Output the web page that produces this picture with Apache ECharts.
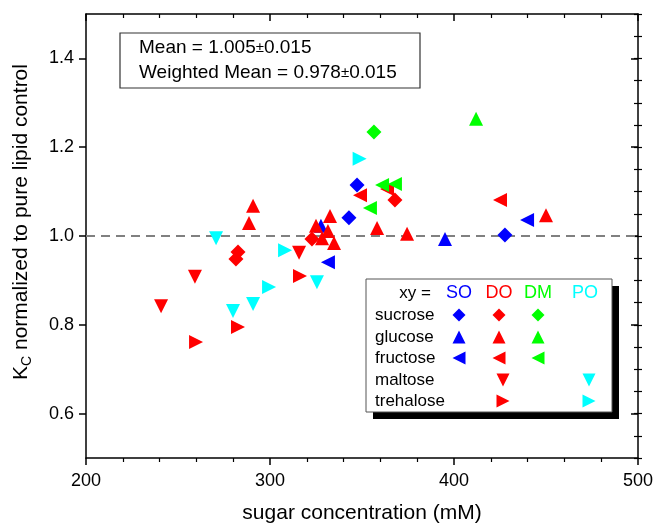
<!DOCTYPE html>
<html>
<head>
<meta charset="utf-8">
<script src="https://cdn.jsdelivr.net/npm/echarts@6/dist/echarts.min.js"></script>
<style>
  html, body { margin: 0; padding: 0; background: #fff; }
  #chart { width: 654px; height: 524px; }
</style>
</head>
<body>
<div id="chart"></div>
<script>
// [sugar concentration (mM), Kc normalized]
var soSucrose = [[347.3, 1.115], [342.9, 1.041], [427.7, 1.002]];
var soGlucose = [[327.7, 1.023], [395.1, 0.993]];
var soFructose = [[331.5, 0.941], [439.7, 1.036]];

var doSucrose = [[322.8, 0.993], [282.6, 0.964], [281.5, 0.948], [367.9, 1.081]];
var doGlucose = [[290.8, 1.068], [288.6, 1.029], [332.6, 1.045], [325.0, 1.023], [331.5, 1.011],
                 [328.3, 0.995], [334.8, 0.984], [358.2, 1.018], [374.5, 1.005], [450.0, 1.047]];
var doFructose = [[348.9, 1.092], [363.6, 1.106], [425.0, 1.081]];
var doMaltose = [[240.8, 0.842], [259.2, 0.908], [315.8, 0.962]];
var doTrehalose = [[282.6, 0.795], [259.8, 0.761], [316.3, 0.910]];

var dmSucrose = [[356.5, 1.234]];
var dmGlucose = [[412.0, 1.264]];
var dmFructose = [[360.9, 1.115], [367.9, 1.117], [354.3, 1.063]];

var poMaltose = [[270.7, 0.995], [279.9, 0.831], [290.8, 0.847], [325.5, 0.896]];
var poTrehalose = [[299.5, 0.885], [308.2, 0.968], [348.7, 1.174]];

var yMajorTicks = [0.6, 0.8, 1.0, 1.2, 1.4];
var lipids = ['SO', 'DO', 'DM', 'PO'];
var sugars = ['sucrose', 'glucose', 'fructose', 'maltose', 'trehalose'];

var colors = { SO: '#0000ff', DO: '#ff0000', DM: '#00ff00', PO: '#00ffff' };
// symbol + rotation for each sugar (ECharts rotates counter-clockwise)
var shapes = {
  sucrose: ['diamond', 0],
  glucose: ['triangle', 0],
  fructose: ['triangle', 90],
  maltose: ['triangle', 180],
  trehalose: ['triangle', -90]
};

var groups = [
  ['SO', 'sucrose', soSucrose], ['SO', 'glucose', soGlucose], ['SO', 'fructose', soFructose],
  ['DO', 'sucrose', doSucrose], ['DO', 'glucose', doGlucose], ['DO', 'fructose', doFructose],
  ['DO', 'maltose', doMaltose], ['DO', 'trehalose', doTrehalose],
  ['DM', 'sucrose', dmSucrose], ['DM', 'glucose', dmGlucose], ['DM', 'fructose', dmFructose],
  ['PO', 'maltose', poMaltose], ['PO', 'trehalose', poTrehalose]
];

var font = 'Liberation Sans, Arial, sans-serif';
var myChart = echarts.init(document.getElementById('chart'));

var seriesArr = groups.map(function (g) {
  var sh = shapes[g[1]];
  return {
    name: g[0] + ' ' + g[1],
    type: 'scatter',
    data: g[2],
    symbol: sh[0],
    symbolRotate: sh[1],
    symbolSize: g[1] === 'sucrose' ? 15 : 14,
    itemStyle: { color: colors[g[0]], opacity: 1 },
    emphasis: { disabled: true },
    z: 3
  };
});
seriesArr[0].markLine = {
  silent: true,
  symbol: 'none',
  label: { show: false },
  lineStyle: { color: '#808080', type: [9, 6], width: 2 },
  data: [{ yAxis: 1.0 }],
  z: 1
};

// legend matrix drawn as graphic
function marker(sym, rot, cx, cy, s, color) {
  var h = s / 2, pts;
  if (sym === 'diamond') pts = [[cx, cy - h], [cx + h, cy], [cx, cy + h], [cx - h, cy]];
  else if (rot === 0) pts = [[cx, cy - h], [cx + h, cy + h], [cx - h, cy + h]];
  else if (rot === 90) pts = [[cx - h, cy], [cx + h, cy - h], [cx + h, cy + h]];
  else if (rot === 180) pts = [[cx, cy + h], [cx + h, cy - h], [cx - h, cy - h]];
  else pts = [[cx + h, cy], [cx - h, cy - h], [cx - h, cy + h]];
  return { type: 'polygon', shape: { points: pts }, style: { fill: color }, z: 12 };
}

var legX = { SO: 459, DO: 499, DM: 538, PO: 585 };
var rowY = { sucrose: 315, glucose: 337, fructose: 358, maltose: 380, trehalose: 401 };
var legendEls = [
  { type: 'rect', shape: { x: 373, y: 286, width: 246, height: 133 }, style: { fill: '#000' }, z: 10 },
  { type: 'rect', shape: { x: 366, y: 279, width: 246, height: 133 }, style: { fill: '#fff', stroke: '#555', lineWidth: 1 }, z: 11 },
  { type: 'text', x: 431, y: 293, style: { text: 'xy =', font: '17px ' + font, fill: '#000', align: 'right', verticalAlign: 'middle' }, z: 12 }
];
lipids.forEach(function (l) {
  legendEls.push({ type: 'text', x: legX[l], y: 293, style: { text: l, font: '18px ' + font, fill: colors[l], align: 'center', verticalAlign: 'middle' }, z: 12 });
});
sugars.forEach(function (s) {
  legendEls.push({ type: 'text', x: 375, y: rowY[s], style: { text: s, font: '17px ' + font, fill: '#000', align: 'left', verticalAlign: 'middle' }, z: 12 });
});
groups.forEach(function (g) {
  var sh = shapes[g[1]];
  var dx = (g[1] === 'maltose' || g[1] === 'trehalose') ? 4 : 0;
  legendEls.push(marker(sh[0], sh[1], legX[g[0]] + dx, rowY[g[1]], 13, colors[g[0]]));
});

var statRich = {
  a: { fontFamily: font, fontSize: 19, fill: '#000' },
  pm: { fontFamily: font, fontSize: 15, fill: '#000' }
};
var statsEls = [
  { type: 'rect', shape: { x: 120, y: 33, width: 300, height: 55 }, style: { fill: '#fff', stroke: '#333', lineWidth: 1.2 }, z: 10 },
  { type: 'text', x: 139, y: 48, style: { text: '{a|Mean = 1.005}{pm|\u00b1}{a|0.015}', rich: statRich, verticalAlign: 'middle' }, z: 11 },
  { type: 'text', x: 139, y: 73, style: { text: '{a|Weighted Mean = 0.978}{pm|\u00b1}{a|0.015}', rich: statRich, verticalAlign: 'middle' }, z: 11 }
];

var axisLineStyle = { color: '#000', width: 1.5 };
var option = {
  backgroundColor: '#fff',
  animation: false,
  grid: { left: 86, right: 16, top: 14, bottom: 66, containLabel: false, outerBoundsMode: 'none' },
  xAxis: [
    {
      type: 'value', min: 200, max: 500, interval: 100,
      name: 'sugar concentration (mM)', nameLocation: 'middle', nameGap: 45,
      nameTextStyle: { fontFamily: font, fontSize: 21, color: '#000' },
      axisLine: { lineStyle: axisLineStyle },
      axisTick: { inside: false, length: 7, lineStyle: axisLineStyle },
      minorTick: { show: true, splitNumber: 5, length: 4, lineStyle: { color: '#000', width: 1.2 } },
      axisLabel: { fontFamily: font, fontSize: 18, color: '#000', margin: 14 },
      splitLine: { show: false }
    },
    {
      type: 'value', position: 'top', min: 200, max: 500, interval: 100,
      axisLine: { onZero: false, lineStyle: axisLineStyle },
      axisTick: { inside: true, length: 7, lineStyle: axisLineStyle },
      minorTick: { show: true, splitNumber: 5, length: 4, lineStyle: { color: '#000', width: 1.2 } },
      axisLabel: { show: false },
      splitLine: { show: false }
    }
  ],
  yAxis: [
    {
      type: 'value', min: 0.5, max: 1.5,
      name: '{k|K}{sub|C}{k| normalized to pure lipid control}',
      nameLocation: 'middle', nameGap: 52, nameRotate: 90,
      nameTextStyle: {
        color: '#000',
        padding: [0, 0, 0, 28],
        rich: {
          k: { fontFamily: font, fontSize: 21, color: '#000', lineHeight: 26 },
          sub: { fontFamily: font, fontSize: 14, color: '#000', verticalAlign: 'bottom', lineHeight: 26, padding: [9, 0, 0, 0] }
        }
      },
      axisLine: { onZero: false, lineStyle: axisLineStyle },
      axisTick: { inside: false, length: 7, customValues: yMajorTicks, lineStyle: axisLineStyle },
      axisLabel: { fontFamily: font, fontSize: 18, color: '#000', margin: 12, customValues: yMajorTicks,
                   formatter: function (v) { return v.toFixed(1); } },
      splitLine: { show: false }
    },
    {
      type: 'value', min: 0.5, max: 1.5, interval: 0.05,
      axisLine: { show: false },
      axisTick: { inside: false, length: 4, lineStyle: { color: '#000', width: 1.2 } },
      axisLabel: { show: false },
      splitLine: { show: false }
    },
    {
      type: 'value', position: 'right', min: 0.5, max: 1.5,
      axisLine: { show: true, onZero: false, lineStyle: axisLineStyle },
      axisTick: { inside: true, length: 7, customValues: yMajorTicks, lineStyle: axisLineStyle },
      axisLabel: { show: false },
      splitLine: { show: false }
    },
    {
      type: 'value', position: 'right', min: 0.5, max: 1.5, interval: 0.05,
      axisLine: { show: false },
      axisTick: { inside: true, length: 4, lineStyle: { color: '#000', width: 1.2 } },
      axisLabel: { show: false },
      splitLine: { show: false }
    }
  ],
  graphic: statsEls.concat(legendEls),
  series: seriesArr
};
myChart.setOption(option, true);
</script>
</body>
</html>
